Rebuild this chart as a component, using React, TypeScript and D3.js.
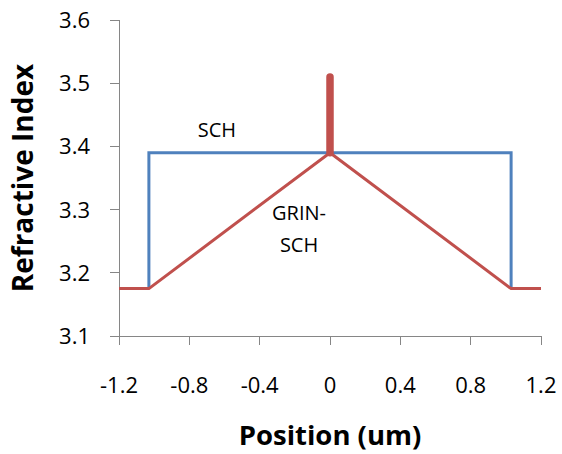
import React from 'react';
import * as d3 from 'd3';

// values
const xTicks = [-1.2, -0.8, -0.4, 0, 0.4, 0.8, 1.2];
const yTicks = [3.1, 3.2, 3.3, 3.4, 3.5, 3.6];

const schX = [-1.03, -1.03, 1.03, 1.03];
const schY = [3.175, 3.39, 3.39, 3.175];

const grinX = [-1.2, -1.03, 0, 1.03, 1.2];
const grinY = [3.175, 3.175, 3.39, 3.175, 3.175];

const wellX = [0, 0];
const wellY = [3.39, 3.51];

const labels = [
    { text: ['SCH'], x: -0.643, y: 3.415 },
    { text: ['GRIN-', 'SCH'], x: -0.176, y: 3.2835 },
];

const width = 562;
const height = 454;
const font = "'Open Sans', sans-serif";

export default function App() {
    const x = d3.scaleLinear().domain([-1.2, 1.2]).range([119, 541]);
    const y = d3.scaleLinear().domain([3.1, 3.6]).range([336, 20]);

    const line = (xs: number[], ys: number[]) =>
        d3
            .line<number>()
            .x((d, i) => x(xs[i]))
            .y(d => y(d))(ys) as string;

    return (
        <svg
            width={width}
            height={height}
            style={{ position: 'absolute', left: 0, top: 0, background: '#fff' }}
        >
            <g stroke="#868686" strokeWidth={1} fill="none" shapeRendering="crispEdges">
                <line x1={x(-1.2)} x2={x(-1.2)} y1={y(3.6)} y2={y(3.1)} />
                <line x1={x(-1.2)} x2={x(1.2)} y1={y(3.1)} y2={y(3.1)} />
                {yTicks.map(t => (
                    <line key={t} x1={x(-1.2) - 9} x2={x(-1.2)} y1={y(t)} y2={y(t)} />
                ))}
                {xTicks.map(t => (
                    <line key={t} x1={x(t)} x2={x(t)} y1={y(3.1)} y2={y(3.1) + 9} />
                ))}
            </g>

            <g fontFamily={font} fontSize={22} fill="#000">
                {yTicks.map(t => (
                    <text key={t} x={90} y={y(t) + 8} textAnchor="end">
                        {t.toFixed(1)}
                    </text>
                ))}
                {xTicks.map(t => (
                    <text key={t} x={x(t)} y={393} textAnchor="middle">
                        {t === 0 ? '0' : t.toFixed(1)}
                    </text>
                ))}
            </g>

            <path d={line(schX, schY)} fill="none" stroke="#4F81BD" strokeWidth={3} />
            <path
                d={line(grinX, grinY)}
                fill="none"
                stroke="#C0504D"
                strokeWidth={3}
                strokeLinejoin="round"
            />
            <path
                d={line(wellX, wellY)}
                fill="none"
                stroke="#C0504D"
                strokeWidth={7.5}
                strokeLinecap="round"
            />

            <g fontFamily={font} fontSize={20} fill="#000" textAnchor="middle">
                {labels.map((l, i) => (
                    <text key={i} x={x(l.x)} y={y(l.y)}>
                        {l.text.map((s, j) => (
                            <tspan key={j} x={x(l.x)} dy={j === 0 ? 0 : 32}>
                                {s}
                            </tspan>
                        ))}
                    </text>
                ))}
            </g>

            <text
                x={330}
                y={445}
                textAnchor="middle"
                fontFamily={font}
                fontWeight="bold"
                fontSize={27.5}
            >
                Position (um)
            </text>
            <text
                transform={`translate(33,178) rotate(-90)`}
                textAnchor="middle"
                fontFamily={font}
                fontWeight="bold"
                fontSize={28}
            >
                Refractive Index
            </text>
        </svg>
    );
}
